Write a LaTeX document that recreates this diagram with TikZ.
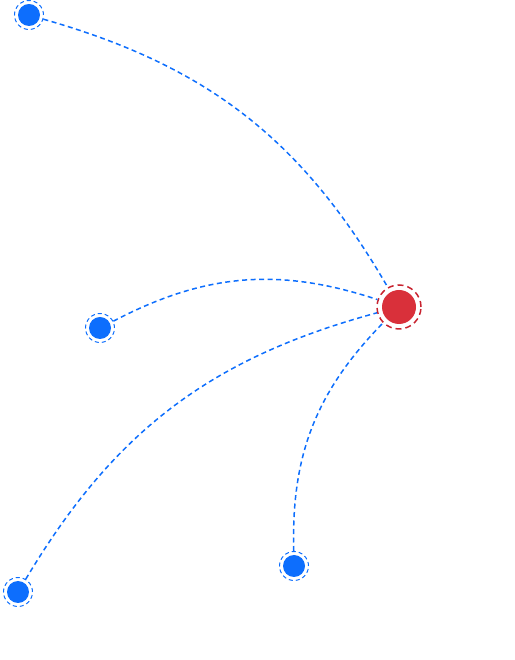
\documentclass[tikz,border=0pt]{standalone}
\usetikzlibrary{calc}
\definecolor{bblue}{HTML}{0D6EFD}
\definecolor{rred}{HTML}{D9303A}
\definecolor{rring}{HTML}{C8232F}
\tikzset{
  x=1pt,y=1pt,
  bnode/.style={circle,draw=bblue,line width=1pt,dash pattern=on 4pt off 3pt,minimum size=29pt,inner sep=0pt,
    path picture={\fill[bblue] (path picture bounding box.center) circle (11pt);}},
  rnode/.style={circle,draw=rring,line width=1.5pt,dash pattern=on 6pt off 4pt,minimum size=44pt,inner sep=0pt,
    path picture={\fill[rred] (path picture bounding box.center) circle (17pt);}},
  link/.style={draw=bblue,line width=1.5pt,dash pattern=on 5pt off 3.5pt}
}
\begin{document}
\begin{tikzpicture}
\useasboundingbox (0,0) rectangle (514,660);
\node[rnode] (r) at (399,353) {};
\node[bnode] (a) at (29,645) {};
\node[bnode] (b) at (100,332) {};
\node[bnode] (c) at (294,94) {};
\node[bnode] (d) at (18,68) {};
\draw[link] (a) to[bend left=22] (r);
\draw[link] (b) to[bend left=23] (r);
\draw[link] (d) to[bend left=22] (r);
\draw[link] (c) to[bend left=23] (r);
\end{tikzpicture}
\end{document}
